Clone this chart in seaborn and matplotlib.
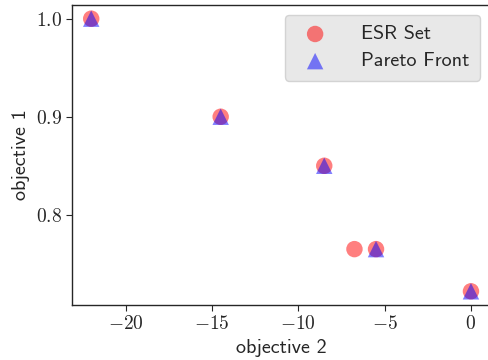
import numpy as np
import pandas as pd
import seaborn as sns
import matplotlib.pyplot as plt
from matplotlib.ticker import FuncFormatter

# dados
esr_obj2 = [-22.0, -14.5, -8.5, -6.75, -5.5, 0.0]
esr_obj1 = [1.0, 0.9, 0.85, 0.765, 0.765, 0.722]
pareto_obj2 = [-22.0, -14.5, -8.5, -5.5, 0.0]
pareto_obj1 = [1.0, 0.9, 0.85, 0.765, 0.722]

esr = pd.DataFrame({'objective 2': esr_obj2, 'objective 1': esr_obj1})
pareto = pd.DataFrame({'objective 2': pareto_obj2, 'objective 1': pareto_obj1})

sns.set_style('ticks')
plt.rcParams['font.family'] = ['cmss10', 'DejaVu Sans']
plt.rcParams['mathtext.fontset'] = 'cm'

fig, ax = plt.subplots(figsize=(4.88, 3.6), dpi=100)
sns.scatterplot(data=esr, x='objective 2', y='objective 1', color='red', alpha=0.5,
                s=140, marker='o', edgecolor='none', label='ESR Set', ax=ax)
sns.scatterplot(data=pareto, x='objective 2', y='objective 1', color='blue', alpha=0.5,
                s=140, marker='^', edgecolor='none', label='Pareto Front', ax=ax)

ax.set_xticks([-20, -15, -10, -5, 0])
ax.set_yticks([0.8, 0.9, 1.0])
ax.xaxis.set_major_formatter(FuncFormatter(lambda v, p: r'$%d$' % v))
ax.yaxis.set_major_formatter(FuncFormatter(lambda v, p: r'$%.1f$' % v))
ax.tick_params(labelsize=14, length=4)
ax.set_xlabel('objective 2', fontsize=14.5)
ax.set_ylabel('objective 1', fontsize=14.5)
for s in ax.spines.values():
    s.set_linewidth(1.0)

leg = ax.legend(loc='upper right', fontsize=14.5, facecolor='#e6e6e6', edgecolor='#d0d0d0',
                framealpha=0.9, borderpad=0.5, handletextpad=1.3, labelspacing=0.45)

plt.subplots_adjust(left=0.148, right=1.004, top=0.986, bottom=0.153)
plt.savefig('out.png', dpi=100)
